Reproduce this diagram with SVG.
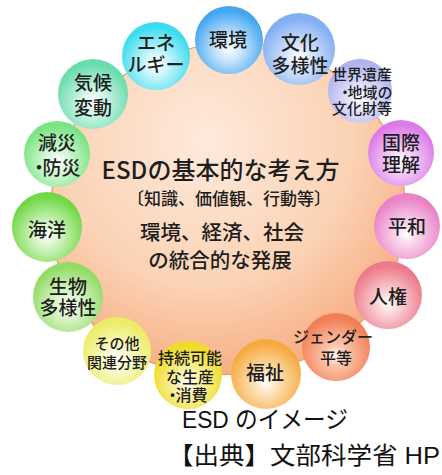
<svg xmlns="http://www.w3.org/2000/svg" width="442" height="475" viewBox="0 0 442 475">
<defs>
<radialGradient id="bg" gradientUnits="userSpaceOnUse" cx="205" cy="140" r="270">
<stop offset="0" stop-color="#feeadc"/>
<stop offset="0.55" stop-color="#fbd2b4"/>
<stop offset="1" stop-color="#f5a173"/>
</radialGradient>
<radialGradient id="g1" cx="50%" cy="62%" r="55%"><stop offset="0" stop-color="#ffffff"/><stop offset="0.3" stop-color="#cfeafc"/><stop offset="1" stop-color="#44a6f0"/></radialGradient>
<radialGradient id="g2" cx="50%" cy="62%" r="55%"><stop offset="0" stop-color="#ffffff"/><stop offset="0.3" stop-color="#d9e6fc"/><stop offset="1" stop-color="#82aef2"/></radialGradient>
<radialGradient id="g3" cx="50%" cy="62%" r="55%"><stop offset="0" stop-color="#ffffff"/><stop offset="0.3" stop-color="#e6e6fb"/><stop offset="1" stop-color="#b0b4ee"/></radialGradient>
<radialGradient id="g4" cx="50%" cy="62%" r="55%"><stop offset="0" stop-color="#ffffff"/><stop offset="0.3" stop-color="#f4d4f8"/><stop offset="1" stop-color="#dc7ae8"/></radialGradient>
<radialGradient id="g5" cx="50%" cy="62%" r="55%"><stop offset="0" stop-color="#ffffff"/><stop offset="0.3" stop-color="#f9d6ec"/><stop offset="1" stop-color="#ea82c6"/></radialGradient>
<radialGradient id="g6" cx="50%" cy="62%" r="55%"><stop offset="0" stop-color="#ffffff"/><stop offset="0.3" stop-color="#fad4d8"/><stop offset="1" stop-color="#ec7a8a"/></radialGradient>
<radialGradient id="g7" cx="50%" cy="62%" r="55%"><stop offset="0" stop-color="#fff4ee"/><stop offset="0.3" stop-color="#fbc4aa"/><stop offset="1" stop-color="#f27e56"/></radialGradient>
<radialGradient id="g8" cx="50%" cy="62%" r="55%"><stop offset="0" stop-color="#ffffff"/><stop offset="0.3" stop-color="#fde2bc"/><stop offset="1" stop-color="#f6aa40"/></radialGradient>
<radialGradient id="g9" cx="50%" cy="62%" r="55%"><stop offset="0" stop-color="#ffffff"/><stop offset="0.3" stop-color="#fbf4b0"/><stop offset="1" stop-color="#eedc26"/></radialGradient>
<radialGradient id="g10" cx="50%" cy="62%" r="55%"><stop offset="0" stop-color="#ffffff"/><stop offset="0.3" stop-color="#fbfbd2"/><stop offset="1" stop-color="#ecec66"/></radialGradient>
<radialGradient id="g11" cx="50%" cy="62%" r="55%"><stop offset="0" stop-color="#ffffff"/><stop offset="0.3" stop-color="#e0f6d2"/><stop offset="1" stop-color="#92dc66"/></radialGradient>
<radialGradient id="g12" cx="50%" cy="62%" r="55%"><stop offset="0" stop-color="#ffffff"/><stop offset="0.3" stop-color="#d8f6ca"/><stop offset="1" stop-color="#72d848"/></radialGradient>
<radialGradient id="g13" cx="50%" cy="62%" r="55%"><stop offset="0" stop-color="#ffffff"/><stop offset="0.3" stop-color="#d8f8dc"/><stop offset="1" stop-color="#7ae482"/></radialGradient>
<radialGradient id="g14" cx="50%" cy="62%" r="55%"><stop offset="0" stop-color="#ffffff"/><stop offset="0.3" stop-color="#d4f6ea"/><stop offset="1" stop-color="#68dcac"/></radialGradient>
<radialGradient id="g15" cx="50%" cy="62%" r="55%"><stop offset="0" stop-color="#ffffff"/><stop offset="0.3" stop-color="#d0f6fc"/><stop offset="1" stop-color="#3adcee"/></radialGradient>
</defs>
<style>
text{font-family:"Noto Sans CJK JP","Noto Sans CJK SC",sans-serif;font-weight:500;fill:#1e1e1e;text-anchor:middle;}
.n{font-size:19px;}
.s{font-size:16px;}
.xs{font-size:15px;}
.cap{font-family:"Liberation Sans","Noto Sans CJK JP",sans-serif;font-weight:400;font-size:24px;fill:#111;text-anchor:start;}
.con{stroke:#e89a68;stroke-width:1.2;fill:none;}
</style>
<polygon id="center-bg" points="229,40 299,49 360,91 401,153 407,226 388,295 336,347 266,374 188,375 117,351 68,297 47,227 57,154 93,94 156,56" fill="url(#bg)"/>
<g id="connectors">
<polygon class="con" points="229,40 299,49 360,91 401,153 407,226 388,295 336,347 266,374 188,375 117,351 68,297 47,227 57,154 93,94 156,56"/>
</g>
<g id="center">
<text x="220.5" y="179" style="font-size:24px">ESDの基本的な考え方</text>
<text x="229" y="204.5" style="font-size:17px">〔知識、価値観、行動等〕</text>
<text x="222" y="240" style="font-size:20.5px">環境、経済、社会</text>
<text x="220" y="268" style="font-size:20.5px">の統合的な発展</text>
</g>
<g id="n1"><circle cx="229" cy="40" r="34" fill="url(#g1)"/><text class="n" x="228" y="47">環境</text></g>
<g id="n2"><circle cx="299" cy="49" r="36" fill="url(#g2)"/><text class="n" x="300" y="50">文化</text><text class="n" x="300" y="73">多様性</text></g>
<g id="n3"><circle cx="360" cy="91" r="32" fill="url(#g3)"/><text class="xs" x="362" y="80">世界遺産</text><text class="xs" x="365" y="98">・<tspan dx="-5">地域の</tspan></text><text class="xs" x="362" y="114">文化財等</text></g>
<g id="n4"><circle cx="401" cy="153" r="33" fill="url(#g4)"/><text class="n" x="401" y="150">国際</text><text class="n" x="401" y="172">理解</text></g>
<g id="n5"><circle cx="407" cy="226" r="33" fill="url(#g5)"/><text class="n" x="407" y="234">平和</text></g>
<g id="n6"><circle cx="388" cy="295" r="34" fill="url(#g6)"/><text class="n" x="388" y="304">人権</text></g>
<g id="n7"><circle cx="336" cy="347" r="34" fill="url(#g7)"/><text class="s" x="333" y="343">ジェンダー</text><text class="s" x="336" y="364">平等</text></g>
<g id="n8"><circle cx="266" cy="374" r="35" fill="url(#g8)"/><text class="n" x="265" y="380">福祉</text></g>
<g id="n9"><circle cx="188" cy="375" r="34" fill="url(#g9)"/><text class="s" x="190" y="364">持続可能</text><text class="s" x="190" y="383">な生産</text><text class="s" x="186" y="401">・<tspan dx="-5">消費</tspan></text></g>
<g id="n10"><circle cx="117" cy="351" r="34" fill="url(#g10)"/><text class="xs" x="117" y="349">その他</text><text class="xs" x="117" y="368">関連分野</text></g>
<g id="n11"><circle cx="68" cy="297" r="35" fill="url(#g11)"/><text class="n" x="68" y="294">生物</text><text class="n" x="68" y="315">多様性</text></g>
<g id="n12"><circle cx="47" cy="227" r="35" fill="url(#g12)"/><text class="n" x="47" y="237">海洋</text></g>
<g id="n13"><circle cx="57" cy="154" r="33" fill="url(#g13)"/><text class="n" x="57" y="150">減災</text><text class="n" x="55" y="175">・<tspan dx="-6">防災</tspan></text></g>
<g id="n14"><circle cx="93" cy="94" r="35" fill="url(#g14)"/><text class="n" x="93" y="90">気候</text><text class="n" x="93" y="115">変動</text></g>
<g id="n15"><circle cx="156" cy="56" r="34" fill="url(#g15)"/><text class="n" x="156" y="50">エネ</text><text class="n" x="156" y="72">ルギー</text></g>
<g id="caption">
<text class="cap" x="182" y="428" textLength="166" lengthAdjust="spacingAndGlyphs">ESD のイメージ</text>
<text class="cap" x="168" y="464" textLength="272" lengthAdjust="spacingAndGlyphs">【出典】文部科学省 HP</text>
</g>
</svg>
